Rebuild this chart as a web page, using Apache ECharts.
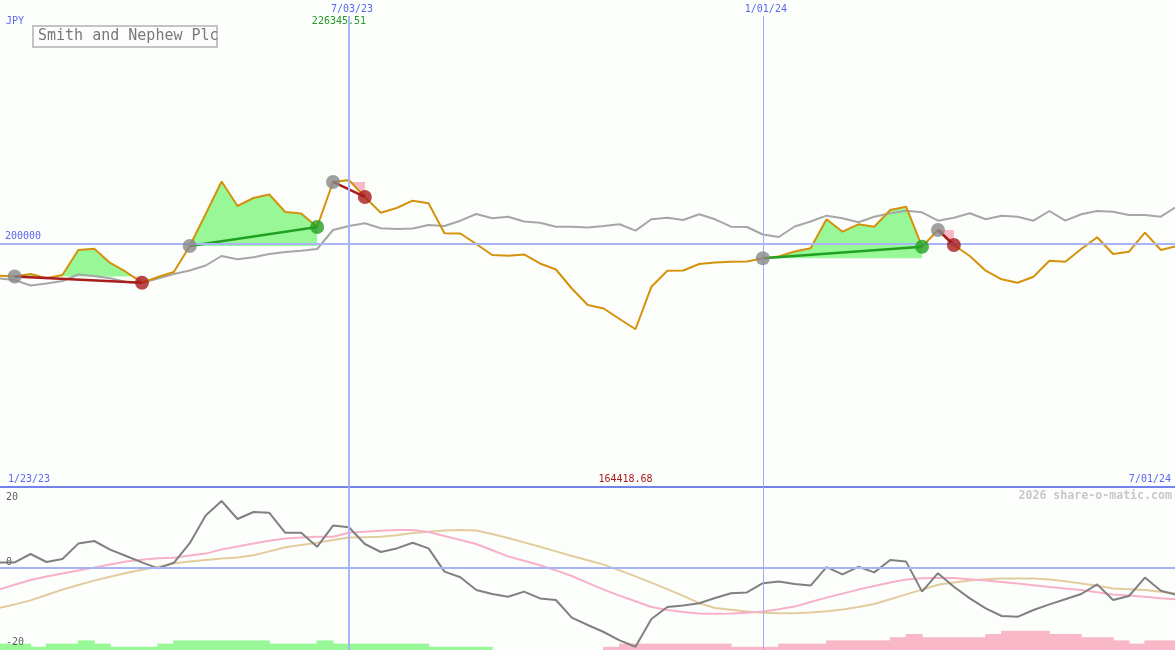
<!DOCTYPE html>
<html><head><meta charset="utf-8">
<script src="https://cdn.jsdelivr.net/npm/echarts@6/dist/echarts.min.js"></script>
<style>html,body{margin:0;padding:0;background:#FCFEFC}#c{width:1175px;height:650px}</style>
</head><body><div id="c"></div>
<script>
// ---- data ----
const title = 'Smith and Nephew Plc';
const currency = 'JPY';
const watermark = '2026 share-o-matic.com';
const dates = ['1/23/23','1/30/23','2/06/23','2/13/23','2/20/23','2/27/23','3/06/23','3/13/23','3/20/23','3/27/23',
'4/03/23','4/10/23','4/17/23','4/24/23','5/01/23','5/08/23','5/15/23','5/22/23','5/29/23','6/05/23',
'6/12/23','6/19/23','6/26/23','7/03/23','7/10/23','7/17/23','7/24/23','7/31/23','8/07/23','8/14/23',
'8/21/23','8/28/23','9/04/23','9/11/23','9/18/23','9/25/23','10/02/23','10/09/23','10/16/23','10/23/23',
'10/30/23','11/06/23','11/13/23','11/20/23','11/27/23','12/04/23','12/11/23','12/18/23','12/25/23','1/01/24',
'1/08/24','1/15/24','1/22/24','1/29/24','2/05/24','2/12/24','2/19/24','2/26/24','3/04/24','3/11/24',
'3/18/24','3/25/24','4/01/24','4/08/24','4/15/24','4/22/24','4/29/24','5/06/24','5/13/24','5/20/24',
'5/27/24','6/03/24','6/10/24','6/17/24','6/24/24','7/01/24'];
const markDates = ['7/03/23','1/01/24'];
const priceRef = 200000;
const price = [186512,186637,186305,187342,185558,186927,197302,197842,191907,188172,
183732,186097,188172,198962,212242,225730,215562,218882,220335,213072,
212450,206847,225522,226345.51,219297,212782,214732,217762,216683,204233,
204150,199792,195227,194937,195435,191700,189210,181325,174477,173025,
168667,164418.68,182072,188712,188800,191492,192115,192447,192500,193858,
194605,196680,198008,210043,204897,207968,206972,213902,215272,198672,
205602,199377,194812,188712,185143,183732,186222,192862,192447,197717,
202573,195642,196597,204482,197302,198962];
const compare = [186097,185558,184852,182570,183400,184437,187135,186512,185558,184022,
183732,185475,187342,188795,190870,194812,193443,194273,195642,196472,
197012,197717,205602,207262,208383,206308,206017,206225,207677,207262,
209462,212242,210458,211122,209130,208632,206972,206950,206640,207262,
207968,205312,210043,210707,209752,212118,210043,206972,206847,203735,
202697,207055,209130,211537,210458,208798,211122,212533,213612,212948,
209462,210707,212533,210043,211537,211122,209462,213487,209462,212118,
213487,213197,211827,211827,211122,215355];
const tradeEntry = [2, 13, 22, 49, 60];
const tradeExit  = [10, 21, 24, 59, 61];
const osc = [1.3,1.3,1.3,3.4,1.4,2.15,6.0,6.65,4.5,2.9,
1.3,-0.2,1.2,6.1,13.0,16.65,12.15,13.9,13.7,8.7,
8.7,5.2,10.5,10.1,5.9,3.9,4.8,6.2,4.8,-1.0,
-2.4,-5.6,-6.6,-7.3,-6.0,-7.7,-8.1,-12.5,-14.35,-16.1,
-18.2,-19.8,-12.85,-9.85,-9.5,-8.9,-7.6,-6.4,-6.2,-3.9,
-3.5,-4.1,-4.5,0.1,-1.7,0.2,-1.2,1.9,1.5,-6.0,
-1.4,-4.8,-7.7,-10.2,-12.1,-12.3,-10.6,-9.2,-7.9,-6.6,
-4.2,-8.1,-7.1,-2.5,-5.8,-6.85];
const oscFast = [-6.6,-5.5,-4.3,-3.1,-2.2,-1.45,-0.7,0.0,0.8,1.5,
1.95,2.35,2.45,3.0,3.5,4.55,5.3,6.0,6.7,7.3,
7.5,7.7,7.7,8.7,8.95,9.2,9.4,9.4,8.9,7.9,
6.9,5.9,4.35,2.8,1.7,0.6,-0.7,-2.1,-3.8,-5.5,
-7.0,-8.4,-9.85,-10.6,-11.1,-11.45,-11.55,-11.5,-11.3,-11.0,
-10.4,-9.75,-8.6,-7.5,-6.5,-5.5,-4.6,-3.7,-3.0,-2.65,
-2.6,-2.6,-2.9,-3.2,-3.6,-4.0,-4.4,-4.85,-5.25,-5.6,
-6.15,-6.7,-7.0,-7.3,-7.65,-7.95];
const oscSlow = [-11.2,-10.1,-9.2,-8.2,-6.85,-5.5,-4.35,-3.25,-2.3,-1.35,
-0.55,0.2,1.1,1.55,1.9,2.25,2.55,3.1,4.05,5.1,
5.65,6.2,6.9,7.5,7.6,7.7,8.1,8.65,8.95,9.3,
9.4,9.3,8.4,7.4,6.3,5.2,4.05,2.9,1.85,0.75,
-0.7,-2.2,-3.75,-5.4,-7.05,-8.9,-10.1,-10.55,-11.0,-11.3,
-11.4,-11.4,-11.25,-10.9,-10.5,-9.85,-9.1,-7.9,-6.7,-5.5,
-4.3,-3.7,-3.2,-2.9,-2.7,-2.7,-2.7,-3.0,-3.4,-3.95,
-4.55,-5.2,-5.4,-5.6,-6.05,-6.45];
const histUp = [2,2,2,1,2,2,3,2,1,1,
1,2,3,3,3,3,3,3,2,2,
2,3,2,2,2,2,2,2,1,1,
1,1,null,null,null,null,null,null,null,null,
null,null,null,null,null,null,null,null,null,null,
null,null,null,null,null,null,null,null,null,null,
null,null,null,null,null,null,null,null,null,null,
null,null,null,null,null,null];
const histDown = [null,null,null,null,null,null,null,null,null,null,
null,null,null,null,null,null,null,null,null,null,
null,null,null,null,null,null,null,null,null,null,
null,null,null,null,null,null,null,null,null,1,
2,2,2,2,2,2,2,1,1,1,
2,2,2,3,3,3,3,4,5,4,
4,4,4,5,6,6,6,5,5,4,
4,3,2,3,3,null];
const oscTicks = [20, 0, -20];

// ---- styles ----
const MONO = '"DejaVu Sans Mono", "Liberation Mono", monospace';
const BLUE_TXT = '#5a66f0';
const GREEN_FILL = '#98f898', PINK_FILL = '#f8b8c8';
const RED = '#a81c1c', GREEN = '#22a022';

const xy = arr => arr.map((v, i) => [i, v]);
const idx = d => dates.indexOf(d);

const trades = tradeEntry.map((a, k) => ({a, b: tradeExit[k], win: price[tradeExit[k]] > price[a]}));

function renderFill(params, api) {
  const a = api.value(0), b = api.value(1);
  const base = price[a];
  const pts = [];
  for (let i = a; i <= b; i++) {
    if (i > a) {
      const p0 = price[i - 1], p1 = price[i];
      if ((p0 - base) * (p1 - base) < 0) {
        const t = (base - p0) / (p1 - p0);
        pts.push([i - 1 + t, base]);
      }
    }
    pts.push([i, price[i]]);
  }
  const children = [];
  let run = [pts[0]], sign = 0;
  const flush = () => {
    if (run.length >= 2 && sign !== 0) {
      const poly = [[run[0][0], base]].concat(run, [[run[run.length - 1][0], base]]).map(p => api.coord(p));
      children.push({type: 'polygon', shape: {points: poly}, style: {fill: sign > 0 ? GREEN_FILL : PINK_FILL}});
    }
  };
  for (let k = 1; k < pts.length; k++) {
    const p = pts[k];
    const s = Math.sign(p[1] - base);
    if (s === 0) { run.push(p); flush(); run = [p]; sign = 0; }
    else { if (sign === 0) sign = s; run.push(p); }
  }
  flush();
  return {type: 'group', children};
}

const XMIN = 1.08, XMAX = 74.89;
const vLines = (withLabel) => ({
  silent: true, symbol: 'none', animation: false,
  data: markDates.map((d, k) => ({
    xAxis: idx(d),
    lineStyle: k === 0 ? {color: '#a8b4f6', width: 2, type: 'solid'} : {color: '#a4acec', width: 1, type: 'solid'},
    label: withLabel ? {show: true, position: 'end', formatter: d, color: BLUE_TXT, fontFamily: MONO, fontSize: 10, distance: 2, offset: [3, 0]} : {show: false}
  }))
});

const series = [
  {type: 'custom', xAxisIndex: 0, yAxisIndex: 0, renderItem: renderFill, data: trades.map(t => [t.a, t.b]), z: 1, silent: true},
  {type: 'line', xAxisIndex: 0, yAxisIndex: 0, data: xy(compare), showSymbol: false, lineStyle: {color: '#a6a6a6', width: 2}, z: 2, silent: true},
  {type: 'line', xAxisIndex: 0, yAxisIndex: 0, data: xy(price), showSymbol: false, lineStyle: {color: '#d4920c', width: 2}, z: 3, silent: true,
    markLine: vLines(true)},
  {type: 'line', xAxisIndex: 0, yAxisIndex: 0, data: [], silent: true,
    markLine: {silent: true, symbol: 'none', animation: false,
      data: [{yAxis: priceRef, lineStyle: {color: '#a8b4f6', width: 2, type: 'solid'},
        label: {show: true, position: 'insideStartTop', formatter: String(priceRef), color: BLUE_TXT, fontFamily: MONO, fontSize: 10, distance: [5, 2]}}]}}
];
trades.forEach(t => {
  series.push({type: 'line', xAxisIndex: 0, yAxisIndex: 0, data: [[t.a, price[t.a]], [t.b, price[t.b]]], showSymbol: false,
    lineStyle: {color: t.win ? GREEN : RED, width: 2.5}, z: 4, silent: true});
});
series.push(
  {type: 'scatter', xAxisIndex: 0, yAxisIndex: 0, data: trades.map(t => [t.a, price[t.a]]), symbolSize: 14, itemStyle: {color: '#888888'}, z: 5, silent: true},
  {type: 'scatter', xAxisIndex: 0, yAxisIndex: 0, data: trades.filter(t => !t.win).map(t => [t.b, price[t.b]]), symbolSize: 14, itemStyle: {color: RED}, z: 5, silent: true},
  {type: 'scatter', xAxisIndex: 0, yAxisIndex: 0, data: trades.filter(t => t.win).map(t => [t.b, price[t.b]]), symbolSize: 14, itemStyle: {color: GREEN}, z: 5, silent: true},
  {type: 'bar', xAxisIndex: 1, yAxisIndex: 2, data: histUp.map((v, i) => [i + 0.5, v == null ? '-' : v]), barWidth: 17, itemStyle: {color: GREEN_FILL}, z: 1, silent: true},
  {type: 'bar', xAxisIndex: 1, yAxisIndex: 2, data: histDown.map((v, i) => [i + 0.5, v == null ? '-' : v]), barWidth: 17, barGap: '-100%', itemStyle: {color: PINK_FILL}, z: 1, silent: true},
  {type: 'line', xAxisIndex: 1, yAxisIndex: 1, data: xy(oscSlow), showSymbol: false, lineStyle: {color: '#e2cc9e', width: 2}, z: 2, silent: true},
  {type: 'line', xAxisIndex: 1, yAxisIndex: 1, data: xy(oscFast), showSymbol: false, lineStyle: {color: '#f8b0c8', width: 2}, z: 2, silent: true,
    markLine: {silent: true, symbol: 'none', animation: false, data: [{yAxis: 0, lineStyle: {color: '#a8b4f6', width: 2, type: 'solid'}, label: {show: false}}]}},
  {type: 'line', xAxisIndex: 1, yAxisIndex: 1, data: xy(osc), showSymbol: false, lineStyle: {color: '#808080', width: 2}, z: 3, silent: true,
    markLine: vLines(false)}
);

const chart = echarts.init(document.getElementById('c'), null, {renderer: 'canvas'});
const option = {
  animation: false,
  backgroundColor: '#FCFEFC',
  grid: [
    {left: 0, right: 0, top: 16, height: 471},
    {left: 0, right: 0, top: 487.6, height: 162.4}
  ],
  xAxis: [
    {type: 'value', gridIndex: 0, min: XMIN, max: XMAX, axisLine: {show: true, onZero: false, lineStyle: {color: '#7282ea', width: 2}},
      axisTick: {show: false}, axisLabel: {show: false}, splitLine: {show: false}},
    {type: 'value', gridIndex: 1, min: XMIN, max: XMAX, show: false, splitLine: {show: false}}
  ],
  yAxis: [
    {type: 'value', gridIndex: 0, min: 98950, max: 294400, show: false, splitLine: {show: false}},
    {type: 'value', gridIndex: 1, min: -20.6, max: 20, show: false, splitLine: {show: false}},
    {type: 'value', gridIndex: 1, min: 0, max: 50.75, show: false, splitLine: {show: false}}
  ],
  series
};
chart.setOption(option);

// ---- text overlays positioned via the chart's scales ----
let maxI = 0, minI = 0;
price.forEach((v, i) => { if (v > price[maxI]) maxI = i; if (v < price[minI]) minI = i; });
const px = (i) => chart.convertToPixel({xAxisIndex: 0}, i);
const pyOsc = (v) => chart.convertToPixel({yAxisIndex: 1}, v);
const g = [];
const txt = (x, y, text, color, align, extra) => g.push(Object.assign({type: 'text', x, y, z: 100,
  style: Object.assign({text, fill: color, font: '10px ' + MONO, align: align || 'left', verticalAlign: 'middle'}, extra || {})}));
txt(6, 21, currency, BLUE_TXT);
txt(px(maxI) - 10, 21, price[maxI].toFixed(2), '#229922', 'center');
txt(px(minI) - 10, 479, price[minI].toFixed(2), '#a81c1c', 'center');
txt(8, 479, dates[0], BLUE_TXT);
txt(1171, 479, dates[dates.length - 1], BLUE_TXT, 'right');
txt(1172, 496, watermark, '#c8c8c8', 'right', {font: 'bold 11.6px ' + MONO});
oscTicks.forEach(v => {
  const y = pyOsc(v);
  const yy = v > 0 ? y + 9.5 : y - 5.5;
  txt(6, yy, String(v), '#606060');
});
g.push({type: 'rect', z: 99, shape: {x: 33, y: 26, width: 184, height: 21}, style: {fill: '#FCFEFC', stroke: '#c4c4c4', lineWidth: 2}});
g.push({type: 'text', z: 100, x: 38, y: 36.5, style: {text: title, fill: '#787878', font: '15px ' + MONO, verticalAlign: 'middle'}});
chart.setOption({graphic: g});
</script>
</body></html>
